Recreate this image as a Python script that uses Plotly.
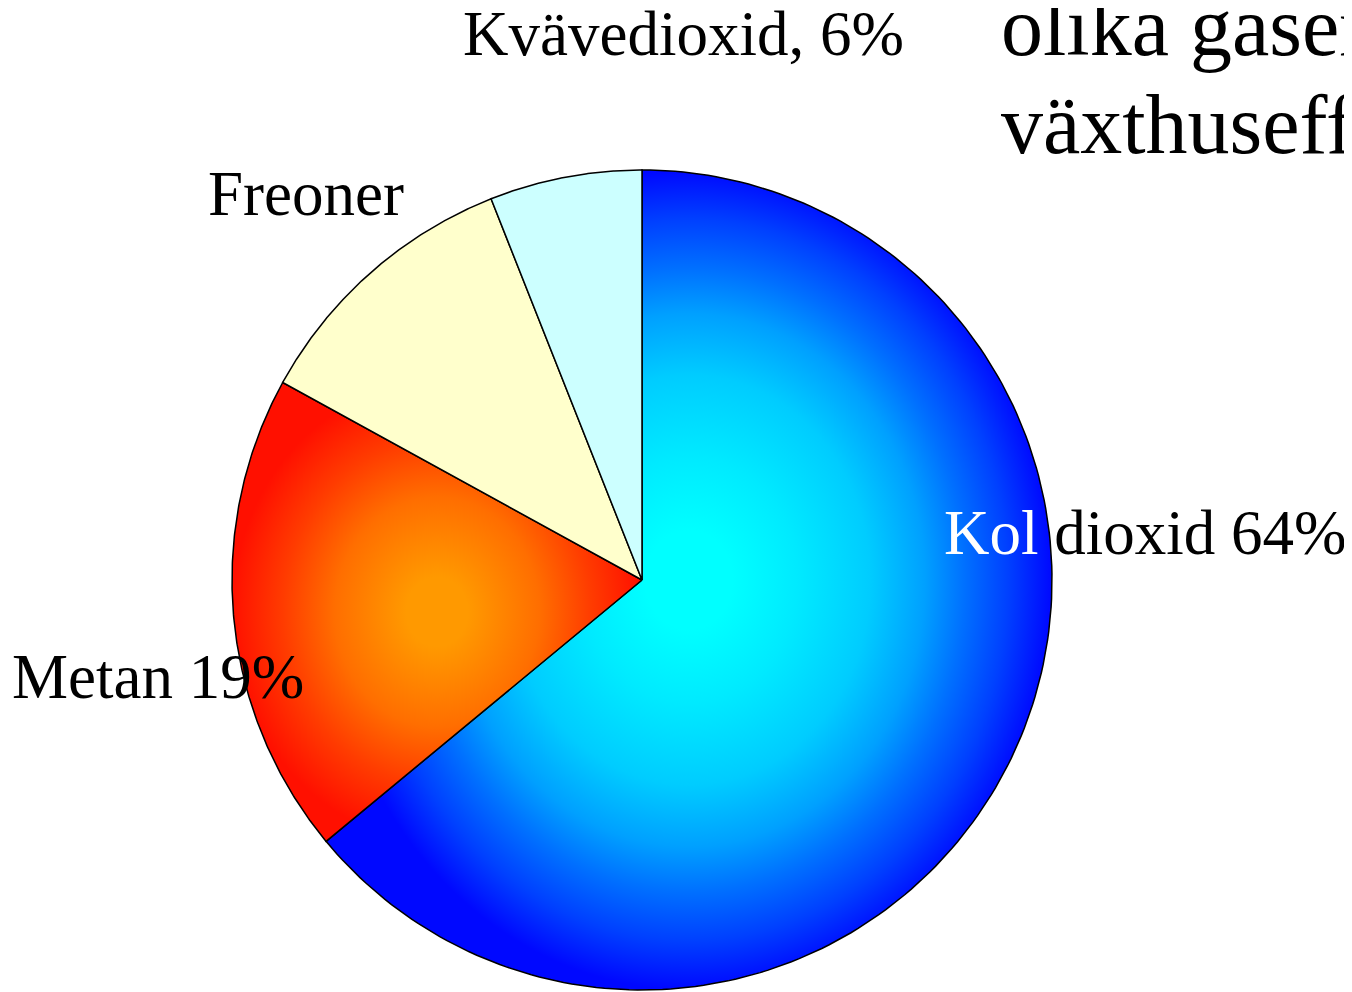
import numpy as np
import plotly.graph_objects as go

# share of the greenhouse effect per gas (%), clockwise from 12 o'clock
gases = ["Kol dioxid", "Metan", "Freoner", "Kvävedioxid"]
shares = [64, 19, 11, 6]

labels = [
    "<span style='color:white'>Kol</span> dioxid 64%",
    "Metan 19%",
    "Freoner",
    "Kvävedioxid, 6%",
]
title_lines = ["olika gaser bidrar till", "växthuseffekten"]

W, H = 1352, 992
OFF = 8  # the html body margin shifts the figure by 8px
CX, CY, R = 642, 580, 410
FONT = "Liberation Serif, Times New Roman, serif"

fills = {
    "Kol dioxid": dict(type="radial", colorscale=[
        [0, "#00ffff"], [0.12, "#00ffff"], [0.3, "#00eaff"], [0.5, "#00ccff"],
        [0.65, "#00a0ff"], [0.76, "#0070ff"], [0.88, "#0040ff"], [1, "#0008ff"]]),
    "Metan": dict(type="radial", colorscale=[
        [0, "#ff9900"], [0.15, "#ff9900"], [0.5, "#ff6e00"],
        [0.75, "#ff3c00"], [1, "#ff1000"]]),
    "Freoner": "#ffffcc",
    "Kvävedioxid": "#ccffff",
}

fig = go.Figure()

cum = np.concatenate([[0], np.cumsum(shares)]) / sum(shares) * 360
for i, gas in enumerate(gases):
    a = np.radians(np.linspace(cum[i], cum[i + 1], 200))
    xs = np.concatenate([[CX], CX + R * np.sin(a), [CX]])
    ys = np.concatenate([[CY], CY - R * np.cos(a), [CY]])
    f = fills[gas]
    kw = dict(fillgradient=f) if isinstance(f, dict) else dict(fillcolor=f)
    fig.add_trace(go.Scatter(x=xs, y=ys, mode="lines", fill="toself",
                             line=dict(color="black", width=1.5),
                             hoverinfo="skip", name=gas, **kw))

# label positions (pixel centre x, baseline y)
label_pos = [(1145, 554), (158, 698), (306, 215), (683, 55)]
size = 63
for txt, (x, yb) in zip(labels, label_pos):
    fig.add_annotation(x=x, y=yb - 0.3375 * size, text=txt, showarrow=False,
                       xanchor="center", yanchor="middle",
                       font=dict(family=FONT, size=size, color="black"))

tsize = 84
for txt, yb in zip(title_lines, [55, 153]):
    fig.add_annotation(x=999, y=yb - 0.3375 * tsize, text=txt, showarrow=False,
                       xanchor="left", yanchor="middle",
                       font=dict(family=FONT, size=tsize, color="black"))

fig.update_xaxes(range=[OFF, W], visible=False, fixedrange=True)
fig.update_yaxes(range=[H, OFF], visible=False, fixedrange=True)
fig.update_layout(width=W - OFF, height=H - OFF, margin=dict(l=0, r=0, t=0, b=0),
                  paper_bgcolor="white", plot_bgcolor="white", showlegend=False)

fig.write_html("out.html")
